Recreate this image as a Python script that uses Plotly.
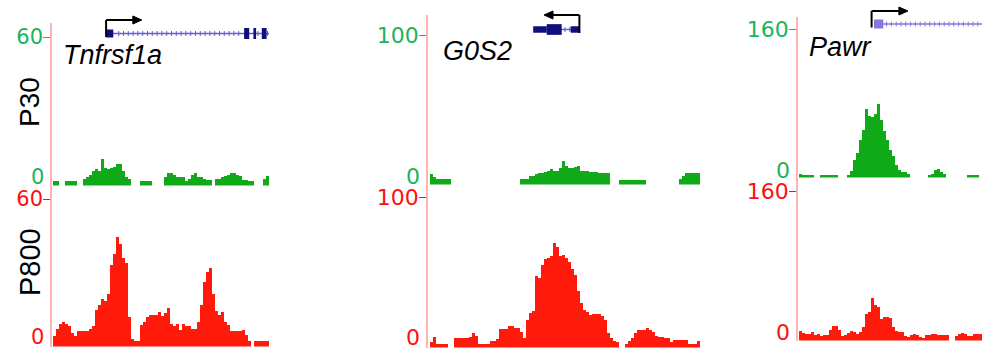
import plotly.graph_objects as go

W, H = 989, 360

# ---------------- data ----------------
genes = ["Tnfrsf1a", "G0S2", "Pawr"]
samples = ["P30", "P800"]
scale_max = [60, 100, 160]

# signal per 3-px genomic bin (None = no data)
tnf_p30 = [0, 0, None, None, 0, 0, 0, 0, None, None,
           1, 1.5, 2.5, 4, 5, 4, 9, 5.3, 5, 5.3,
           6, 7, 7, 4, 1.8, 0.8, None, None, None, 0,
           0, 0, 0, None, None, None, None, 1.8, 3.4, 3.4,
           2.5, 1.8, 1.5, 1.5, 0, 1, 2.5, 3.4, 1.8, 1.5,
           1, 0.5, 0.5, None, 1, 1, 1.8, 2, 2.5, 3.2,
           3.4, 2.5, 2, 0.5, 0.3, 0, 0, None, None, None,
           1, 2]
tnf_p800 = [2, 5, 7, 8, 7, 6, 3, 2, 4, 4,
            4, 4, 5, 6, 13, 15, 17.5, 16.7, 20, 32,
            37, 44, 41, 35, 33, 10, 0.5, 0, 0, 6.7,
            8, 10, 11, 11, 11, 12, 10.3, 11.7, 13.8, 7,
            6, 7, 4.6, 7, 6, 6, 5, 5, 8, 15,
            25, 29, 31, 20, 12.5, 11, 12, 8, 6.5, 4,
            4, 4, 4, 4.6, 2.5, 0, None, 0, 0, 0,
            0, 0]
g0s2_p30 = ([4, 2, 1, 1, 1, 1, 1] + [None] * 23 +
            [1, 1, 1, 2.5, 3, 4, 4.6, 5, 5.7, 6.2,
             7.4, 6.5, 6.5, 8, 13, 10, 8, 8, 9, 9.5,
             6.5, 6.2, 6.2, 5.8, 5.7, 5.7, 4.6, 4.6, 4.6, 4.6] +
            [None] * 3 + [0] * 9 + [None] * 11 +
            [1, 3, 4.5, 4.6, 4.6, 4.6, 4.6])
g0s2_p800 = [1.1, 4.6, 0, 0, 0, 0, None, None, 3.9, 3.9,
             3.9, 3.9, 3.9, 4.5, 7.3, 5, 0, 0, 0, 0,
             1.9, 1.9, 3, 10, 10, 10, 12.3, 12.3, 10.5, 10.5,
             8, 3.9, 16, 21, 22.6, 46, 45, 54, 58, 59,
             60, 68.9, 66, 60, 61, 59, 56, 51, 47, 36,
             28, 23, 21.5, 19.6, 20.5, 20, 20.5, 18.7, 16, 7,
             4, 1.4, 1, None, None, 0, 1.5, 3.5, 7, 9.2,
             9.2, 9.2, 10.9, 9.5, 8, 5, 4.3, 4.8, 4, 3.9,
             1, 2.1, 2.1, 2.1, 2.1, 2.1, 0, 0, 0, 2]
pawr_p30 = ([0.5, 0, 0, 0, 0] + [None] * 2 + [0] * 6 + [None] * 3 +
            [0, 4, 16, 24, 38, 49, 72, 64, 63, 66,
             78, 60, 48, 38, 27, 20, 11, 4.5, 3.2, 3, 0.5] +
            [None] * 6 + [0, 1, 5, 6, 3, 0.5] + [None] * 7 +
            [0, 0, 0, 0] + [None])
pawr_p800 = [6.7, 5.5, 4.4, 4.4, 5.9, 3.3, 4.4, 2.2, 3.3, 3.3,
             8, 12.6, 12.6, 7.8, 2.2, 3, 5, 6.7, 6, 4.4,
             6, 11.5, 26, 28, 43, 36, 34, 20, 22.6, 23,
             21, 12, 7.5, 6.5, 5.9, 2.2, 0.4, 3.3, 4, 3,
             1, 0, 3.3, 3.3, 4.4, 3.5, 3.3, 3.3, 3.3, 3.3,
             None, None, 2.2, 3.5, 5, 4, 1.5, 2, 4, 4, 4]

tracks = [[tnf_p30, tnf_p800], [g0s2_p30, g0s2_p800], [pawr_p30, pawr_p800]]

# gene models (bin units)
exon_start = [[17.2, 63.2, 66.3, 69.1], [33.9, 38.4, 46.4], [24.5]]
exon_end = [[19.6, 64.9, 67.2, 70.7], [38.4, 43.4, 49.5], [27.6]]
exon_thick = [[False, True, True, True], [False, True, False], [True]]
tx_span = [[17.2, 71.5], [33.9, 49.5], [24.5, 60.5]]
tss = [17.2, 49.3, 23.7]
tss_arrow_tip = [29.1, 37.5, 35.8]

# ---------------- styles / layout ----------------
GREEN, RED = "#10aa18", "#ff1a0b"
GREEN_TXT, RED_TXT = "#1db35c", "#ff1010"
AXIS_PINK = "#ffb3b3"
FONT = "Liberation Sans, Arial, sans-serif"
NUM_FONT = "DejaVu Sans, sans-serif"

cols = [
    dict(x_line=52, x_first=53, rows=[(23, 185.5, 181, 37), (185.5, 346.5, 340, 199)],
         zero_shift=[4, 3], tick_size=21, gene_y=33.5, thick_h=11, thin_h=8, arrow_top=20,
         exon_color="#0f0f80", intron_color="#6a5acd", name_x=61, name_y=55),
    dict(x_line=428, x_first=430, rows=[(15, 184.5, 180, 35), (184.5, 347.5, 343, 197.3)],
         zero_shift=[4, 6], tick_size=22, gene_y=29.5, thick_h=10.7, thin_h=6.5, arrow_top=15,
         exon_color="#0f0f80", intron_color="#6a5acd", name_x=441, name_y=51),
    dict(x_line=798, x_first=799, rows=[(17, 177.5, 174.5, 29), (177.5, 340.5, 337, 191.7)],
         zero_shift=[4, 4.5], tick_size=22, gene_y=24, thick_h=9, thin_h=6, arrow_top=11,
         exon_color="#8a74dc", intron_color="#8a74dc", name_x=807, name_y=47),
]
PX_BIN = 3


def py(p):
    return 1 - p / H


fig = go.Figure()
layout = dict(width=W, height=H, margin=dict(l=0, r=0, t=0, b=0),
              paper_bgcolor="white", plot_bgcolor="rgba(0,0,0,0)",
              showlegend=False, bargap=0, barmode="overlay")
annotations, shapes = [], []

for ci, col in enumerate(cols):
    xid = "x" if ci == 0 else f"x{ci + 1}"
    xkey = "xaxis" if ci == 0 else f"xaxis{ci + 1}"
    nb = len(tracks[ci][0])
    off = (col["x_first"] - col["x_line"]) / PX_BIN
    x_end = col["x_first"] + nb * PX_BIN
    layout[xkey] = dict(domain=[col["x_line"] / W, x_end / W],
                        range=[-0.5 - off, nb - 0.5], visible=False,
                        anchor="y" if ci == 0 else f"y{ci * 2 + 1}")
    for ri in range(2):
        k = ci * 2 + ri + 1
        yid = "y" if k == 1 else f"y{k}"
        ykey = "yaxis" if k == 1 else f"yaxis{k}"
        top, bot, zero, maxpx = col["rows"][ri]
        vmax = scale_max[ci]
        s = (zero - maxpx) / vmax
        lo, hi = -(bot - zero) / s, (zero - top) / s
        color = GREEN if ri == 0 else RED
        tcolor = GREEN_TXT if ri == 0 else RED_TXT
        vals = tracks[ci][ri]
        fig.add_trace(go.Bar(
            x=list(range(nb)),
            y=[None if v is None else v - lo for v in vals],
            base=lo, width=1.0, xaxis=xid, yaxis=yid,
            marker=dict(color=color, line=dict(width=0)),
            hoverinfo="skip"))
        layout[ykey] = dict(domain=[py(bot), py(top)], range=[lo, hi], anchor=xid,
                            showline=True, linecolor=AXIS_PINK, linewidth=1.5,
                            showgrid=False, zeroline=False,
                            tickmode="array", tickvals=[vmax], ticktext=[str(vmax)],
                            ticks="outside", ticklen=7, tickwidth=1, tickcolor=tcolor,
                            ticklabelstandoff=-4,
                            tickfont=dict(family=NUM_FONT, size=col["tick_size"], color=tcolor))
        annotations.append(dict(text="0", xref="paper", yref=yid,
                                x=(col["x_line"] - 6) / W, y=0, xanchor="right",
                                yanchor="middle", yshift=col["zero_shift"][ri], showarrow=False,
                                font=dict(family=NUM_FONT, size=col["tick_size"], color=tcolor)))

    # gene name
    annotations.append(dict(text=f"<i>{genes[ci]}</i>", xref="paper", yref="paper",
                            x=col["name_x"] / W, y=py(col["name_y"]), xanchor="left",
                            yanchor="middle", showarrow=False,
                            font=dict(family=FONT, size=27, color="black")))

    # gene model
    gy = col["gene_y"]
    a, b = tx_span[ci]
    shapes.append(dict(type="line", xref=xid, yref="paper", x0=a, x1=b,
                       y0=py(gy), y1=py(gy), line=dict(color=col["intron_color"], width=1.5)))
    t = a + 1.0
    while t < b - 0.3:
        inside = any(s0 - 0.2 <= t <= e0 + 0.2 for s0, e0 in zip(exon_start[ci], exon_end[ci]))
        if not inside:
            shapes.append(dict(type="line", xref=xid, yref="paper", x0=t, x1=t,
                               y0=py(gy - 2.5), y1=py(gy + 2.5),
                               line=dict(color=col["intron_color"], width=1)))
        t += 1.6
    for s0, e0, thick in zip(exon_start[ci], exon_end[ci], exon_thick[ci]):
        hh = (col["thick_h"] if thick else col["thin_h"]) / 2
        shapes.append(dict(type="rect", xref=xid, yref="paper", x0=s0, x1=e0,
                           y0=py(gy + hh), y1=py(gy - hh),
                           fillcolor=col["exon_color"], line=dict(width=0)))
    # TSS arrow
    xt, xtip = tss[ci], tss_arrow_tip[ci]
    at = col["arrow_top"]
    direction = 1 if xtip > xt else -1
    head_len = 9 / PX_BIN
    shapes.append(dict(type="line", xref=xid, yref="paper", x0=xt, x1=xt,
                       y0=py(gy + 3.5), y1=py(at), line=dict(color="black", width=2)))
    shapes.append(dict(type="line", xref=xid, yref="paper", x0=xt, x1=xtip - direction * head_len * 0.8,
                       y0=py(at), y1=py(at), line=dict(color="black", width=2)))
    hb = xtip - direction * head_len
    shapes.append(dict(type="path", xref=xid, yref="paper",
                       path=f"M {hb},{py(at - 4)} L {xtip},{py(at)} L {hb},{py(at + 4)} Z",
                       fillcolor="black", line=dict(color="black", width=1)))

# row labels
annotations.append(dict(text=samples[0], xref="paper", yref="paper", x=29 / W, y=py(102),
                        textangle=-90, showarrow=False, xanchor="center", yanchor="middle",
                        font=dict(family=FONT, size=28, color="black")))
annotations.append(dict(text=samples[1], xref="paper", yref="paper", x=30 / W, y=py(262),
                        textangle=-90, showarrow=False, xanchor="center", yanchor="middle",
                        font=dict(family=FONT, size=29, color="black")))

layout["annotations"] = annotations
layout["shapes"] = shapes
fig.update_layout(**layout)
fig.write_html("out.html")
